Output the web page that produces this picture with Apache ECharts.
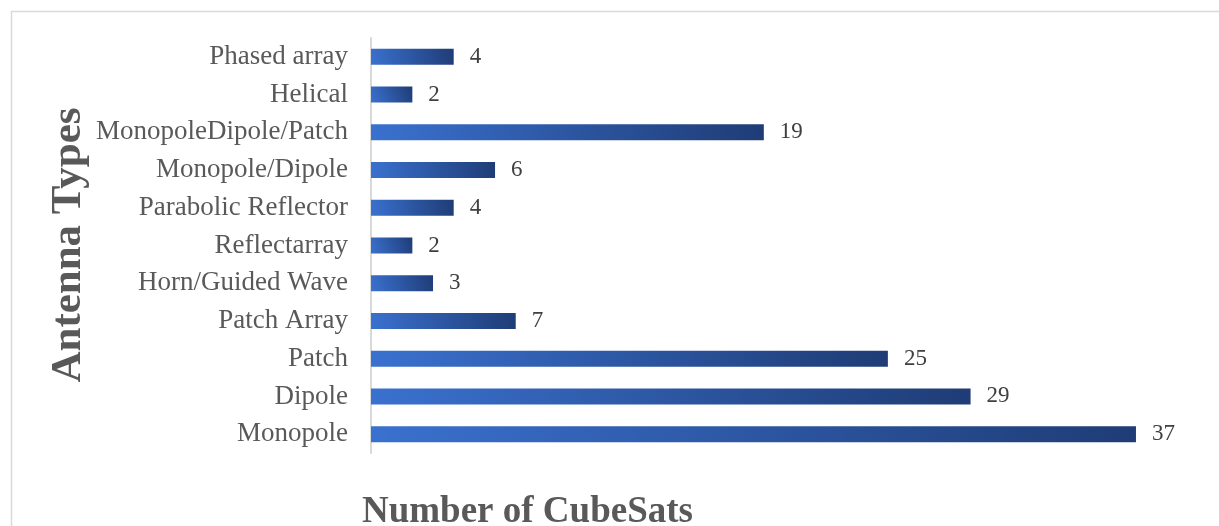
<!DOCTYPE html>
<html>
<head>
<meta charset="utf-8">
<script src="https://cdn.jsdelivr.net/npm/echarts@6/dist/echarts.min.js"></script>
<style>
html,body{margin:0;padding:0;background:#fff;}
#c{width:1219px;height:526px;}
</style>
</head>
<body>
<div id="c"></div>
<script>
var categories = ["Monopole","Dipole","Patch","Patch Array","Horn/Guided Wave","Reflectarray","Parabolic Reflector","Monopole/Dipole","MonopoleDipole/Patch","Helical","Phased array"];
var values = [37,29,25,7,3,2,4,6,19,2,4];
var xAxisTitle = "Number of CubeSats";
var yAxisTitle = "Antenna Types";

var chart = echarts.init(document.getElementById('c'));
var serif = '"Liberation Serif","Times New Roman",serif';
chart.setOption({
  animation:false,
  backgroundColor:'#fff',
  graphic:[
    {type:'rect',left:9,top:9,shape:{width:1209,height:540},style:{fill:'none',stroke:'#d9d9d9',lineWidth:1.5},silent:true,z:-1},
    {type:'text',x:69,y:245,rotation:Math.PI/2,silent:true,
     style:{text:yAxisTitle,align:'center',verticalAlign:'middle',fill:'#595959',
       font:'bold 43px "Liberation Serif","Times New Roman",serif'}}
  ],
  title:{text:xAxisTitle,left:357,top:489,textStyle:{fontFamily:serif,fontSize:37,fontWeight:'bold',color:'#595959'}},
  grid:{left:371,top:38,width:827,height:415,containLabel:false},
  xAxis:{type:'value',min:0,max:40,show:false,splitLine:{show:false}},
  yAxis:{type:'category',data:categories,
    axisLine:{show:true,lineStyle:{color:'#d9d9d9',width:2}},
    axisTick:{show:false},
    axisLabel:{fontFamily:serif,fontSize:27,color:'#595959',margin:23}},
  series:[{type:'bar',data:values,barWidth:16,
    itemStyle:{color:new echarts.graphic.LinearGradient(0,1,1,0,[{offset:0,color:'#3a71cf'},{offset:1,color:'#1f3c76'}])},
    label:{show:true,position:'right',distance:16,fontFamily:serif,fontSize:23,color:'#404040'}}]
});
</script>
</body>
</html>
